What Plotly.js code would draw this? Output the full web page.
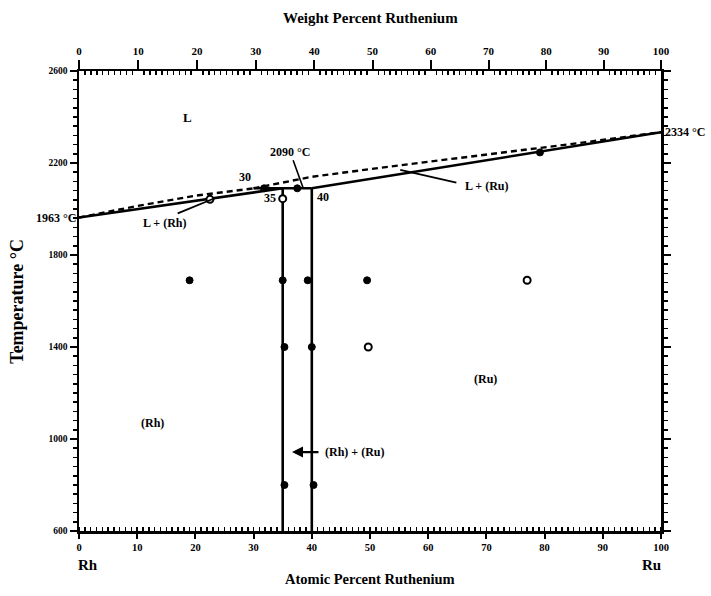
<!DOCTYPE html>
<html>
<head>
<meta charset="utf-8">
<script src="https://cdn.plot.ly/plotly-3.0.1.min.js"></script>
<style>html,body{margin:0;padding:0;background:#fff}</style>
</head>
<body>
<div id="chart" style="width:711px;height:596px"></div>
<script>
// Rh-Ru phase diagram: composition in atomic percent Ru, temperature in deg C
const liqRhX = [0, 10, 20, 30];
const liqRhT = [1963, 2013, 2058, 2090];
const liqRuX = [30, 40, 52, 70, 86, 100];
const liqRuT = [2090, 2140, 2180, 2235, 2287, 2334];
const solRhX = [0, 35];
const solRhT = [1963, 2090];
const solRuX = [40, 100];
const solRuT = [2090, 2334];
const peritecticX = [30, 40];
const peritecticT = [2090, 2090];
const solvusRhX = [35, 35];
const solvusRhT = [2090, 600];
const solvusRuX = [40, 40];
const solvusRuT = [2090, 600];

// experimental points
const filledX = [19, 35, 39.3, 49.5, 35.3, 40, 35.3, 40.3, 79.2, 31.8, 37.5];
const filledT = [1690, 1690, 1690, 1690, 1400, 1400, 800, 800, 2246, 2090, 2090];
const openX = [77, 49.7, 35, 22.5];
const openT = [1690, 1400, 2045, 2042];

const tempTicks = [600, 1000, 1400, 1800, 2200, 2600];
const atomicTicks = [0, 10, 20, 30, 40, 50, 60, 70, 80, 90, 100];
const weightTicks = [0, 10, 20, 30, 40, 50, 60, 70, 80, 90, 100];

// weight percent Ru -> atomic percent Ru
const M_RU = 101.07, M_RH = 102.91;
function wtToAt(w) {
  if (w <= 0) return 0;
  if (w >= 100) return 100;
  const nRu = w / M_RU, nRh = (100 - w) / M_RH;
  return 100 * nRu / (nRu + nRh);
}
const weightPos = weightTicks.map(wtToAt);
const weightMinor = [];
for (let w = 1; w < 100; w++) if (w % 10) weightMinor.push(wtToAt(w));

const serif = 'Liberation Serif, Times New Roman, serif';
const font = (s) => ({family: serif, size: s, color: '#000', weight: 'bold'});
const lineSolid = {color: '#000', width: 2.6};
const lineDash = {color: '#000', width: 2.4, dash: '6px,4px'};

function ln(x, y, line) {
  return {x: x, y: y, mode: 'lines', line: line, hoverinfo: 'skip', showlegend: false};
}

const traces = [
  ln(solRhX, solRhT, lineSolid),
  ln(solRuX, solRuT, lineSolid),
  ln(peritecticX, peritecticT, lineSolid),
  ln(solvusRhX, solvusRhT, lineSolid),
  ln(solvusRuX, solvusRuT, lineSolid),
  ln(liqRhX, liqRhT, lineDash),
  ln(liqRuX, liqRuT, lineDash),
  {x: filledX, y: filledT, mode: 'markers', showlegend: false,
   marker: {color: '#000', size: 7, line: {color: '#000', width: 1}}},
  {x: openX, y: openT, mode: 'markers', showlegend: false,
   marker: {color: '#fff', size: 7, line: {color: '#000', width: 2}}},
  {x: [0, 100], y: [600, 600], xaxis: 'x2', mode: 'markers', showlegend: false,
   marker: {opacity: 0}, hoverinfo: 'skip'}
];

const annotations = [
  {x: 18.6, y: 2400, text: 'L', font: font(13)},
  {x: 12.7, y: 1070, text: '(Rh)'},
  {x: 69.9, y: 1261, text: '(Ru)'},
  {x: 14.8, y: 1939, text: 'L + (Rh)'},
  {x: 70.1, y: 2100, text: 'L + (Ru)'},
  {x: 28.5, y: 2139, text: '30'},
  {x: 32.8, y: 2048, text: '35'},
  {x: 41.9, y: 2052, text: '40'},
  {x: 47.4, y: 943, text: '(Rh) + (Ru)'},
  {x: 0, y: 1963, text: '1963 °C', xanchor: 'right', xshift: -1},
  {x: 100, y: 2334, text: '2334 °C', xanchor: 'left', xshift: 2},
  {x: 38.5, y: 2092, text: '2090 °C', showarrow: true, arrowhead: 0, arrowwidth: 1.6,
   ax: -13, ay: -36},
  {x: 36.6, y: 943, ax: 41.4, ay: 943, axref: 'x', ayref: 'y', text: '', showarrow: true,
   arrowhead: 2, arrowsize: 1, arrowwidth: 2.2},
  // leader lines for the two-phase fields
  {x: 23.4, y: 2048, ax: 16.7, ay: 1978, axref: 'x', ayref: 'y', text: '', showarrow: true,
   arrowhead: 0, arrowwidth: 1.8},
  {x: 55.2, y: 2170, ax: 65.1, ay: 2113, axref: 'x', ayref: 'y', text: '', showarrow: true,
   arrowhead: 0, arrowwidth: 1.8},
  // element names and axis titles
  {xref: 'paper', yref: 'paper', x: 0.016, y: -0.074, text: 'Rh', font: font(15)},
  {xref: 'paper', yref: 'paper', x: 0.983, y: -0.074, text: 'Ru', font: font(15)},
  {xref: 'paper', yref: 'paper', x: 0.5, y: -0.104, text: 'Atomic Percent Ruthenium', font: font(14.5)},
  {xref: 'paper', yref: 'paper', x: 0.5, y: 1.115, text: 'Weight Percent Ruthenium', font: font(15)},
  {xref: 'paper', yref: 'paper', x: -0.107, y: 0.5, text: 'Temperature °C', textangle: -90, font: font(18)}
].map(a => Object.assign({xref: 'x', yref: 'y', showarrow: false, font: font(12),
  xanchor: 'center', yanchor: 'middle', arrowcolor: '#000'}, a));

const layout = {
  width: 711, height: 596,
  margin: {l: 79, r: 50, t: 71, b: 65},
  paper_bgcolor: '#fff', plot_bgcolor: '#fff',
  showlegend: false,
  font: font(10),
  xaxis: {
    range: [0, 100], tickvals: atomicTicks, ticktext: atomicTicks.map(String),
    ticks: 'outside', ticklen: 5, tickwidth: 2, tickcolor: '#000',
    showline: true, linewidth: 2.5, linecolor: '#000', showgrid: false, zeroline: false,
    tickfont: font(10.5),
    minor: {dtick: 1, ticks: 'inside', ticklen: 4, tickwidth: 1.5, tickcolor: '#000', showgrid: false}
  },
  xaxis2: {
    overlaying: 'x', side: 'top', anchor: 'y', range: [0, 100],
    tickvals: weightPos, ticktext: weightTicks.map(String),
    ticks: 'outside', ticklen: 9, tickwidth: 2, tickcolor: '#000',
    showline: true, linewidth: 2.5, linecolor: '#000', showgrid: false, zeroline: false,
    tickfont: font(11),
    minor: {tickvals: weightMinor, ticks: 'inside', ticklen: 4, tickwidth: 1.5, tickcolor: '#000', showgrid: false}
  },
  yaxis: {
    range: [600, 2600], tickvals: tempTicks, ticktext: tempTicks.map(String),
    ticks: 'outside', ticklen: 7, tickwidth: 2, tickcolor: '#000',
    showline: true, linewidth: 2.5, linecolor: '#000', mirror: 'ticks',
    showgrid: false, zeroline: false, tickfont: font(9.5),
    minor: {dtick: 40, tick0: 600, ticks: 'outside', ticklen: 4, tickwidth: 1.5, tickcolor: '#000', showgrid: false}
  },
  annotations: annotations
};

Plotly.newPlot('chart', traces, layout, {displayModeBar: false, staticPlot: true});
</script>
</body>
</html>
